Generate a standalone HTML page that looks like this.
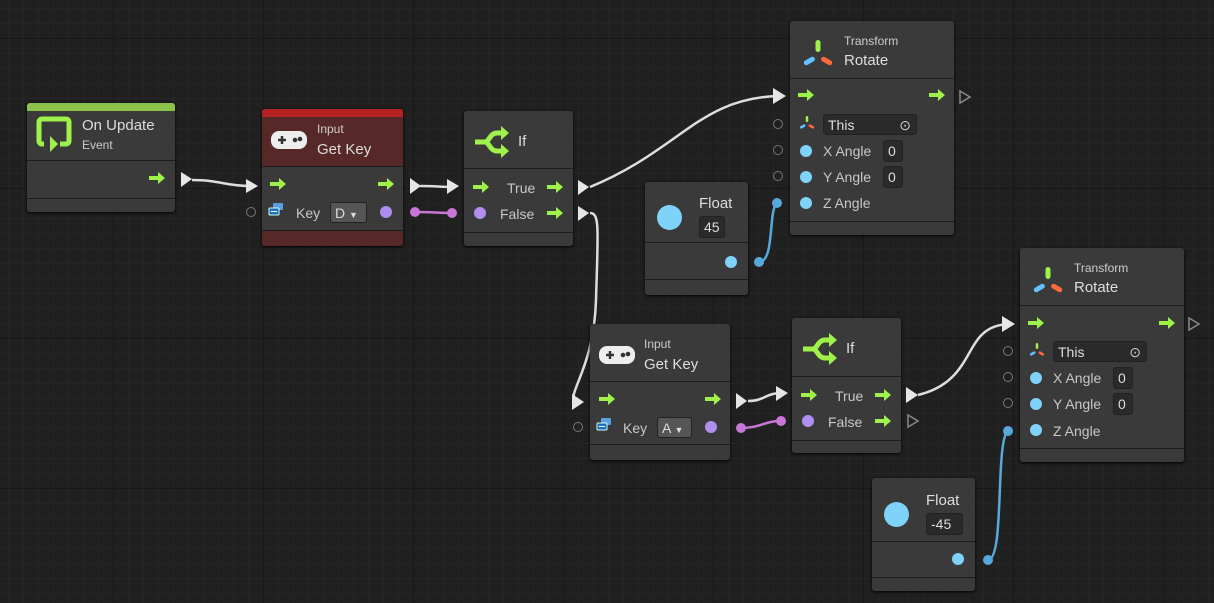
<!DOCTYPE html>
<html><head><meta charset="utf-8">
<style>
body{margin:0;width:1214px;height:603px;overflow:hidden;background:#202020;font-family:"Liberation Sans",sans-serif;position:relative}
.grid{position:absolute;inset:0;
background-image:
linear-gradient(90deg,#181818 1px,transparent 1px),
linear-gradient(0deg,#181818 1px,transparent 1px),
linear-gradient(90deg,#252525 1px,transparent 1px),
linear-gradient(0deg,#252525 1px,transparent 1px);
background-size:150px 150px,150px 150px,15px 15px,15px 15px;
background-position:113px 0,0 39px,8px 0,0 9px;}
.n{position:absolute;background:#3a3a3a;border-radius:3px;box-shadow:0 1px 3px #000;overflow:hidden}
.h{position:absolute;left:0;right:0;top:0;background:#3a3a3a;border-bottom:1px solid #1e1e1e}
.b{position:absolute;left:0;right:0;background:#3a3a3a;border-bottom:1px solid #1e1e1e}
.f{position:absolute;left:0;right:0;bottom:0;background:#3a3a3a}
.t{position:absolute;color:#ddd;font-size:15px;white-space:nowrap}
.s{position:absolute;color:#ccc;font-size:12px;white-space:nowrap}
.l{position:absolute;color:#c8c8c8;font-size:14px;white-space:nowrap}
.ga{position:absolute}
.dot{position:absolute;width:12px;height:12px;border-radius:50%}
.oc{position:absolute;width:8px;height:8px;border-radius:50%;border:1.5px solid #777}
.box{position:absolute;background:#2a2a2a;border:1px solid #222;border-radius:3px;color:#ddd;font-size:14px;padding-left:4px;box-sizing:border-box;line-height:20px}
</style></head><body>
<div class="grid"></div>
<svg width="1214" height="603" style="position:absolute;left:0;top:0">
<g fill="none" stroke-width="2.5">
<path d="M192 180 C220 180,225 186,250 186" stroke="#ddd"/>
<path d="M420 186 C435 186,440 187,452 187" stroke="#ddd"/>
<path d="M415 212 C430 212,440 213,452 213" stroke="#c877d6"/>
<path d="M590 187 C680 150,700 97,780 96" stroke="#ddd"/>
<path d="M590 213 C600 213,598 230,596 300 C594 370,565 395,576 402" stroke="#ddd"/>
<path d="M759 262 C775 262,768 210,777 203" stroke="#58a8dc"/>
<path d="M748 401 C765 401,765 393,782 393" stroke="#ddd"/>
<path d="M741 428 C760 428,765 421,780 421" stroke="#c877d6"/>
<path d="M918 395 C980 380,960 325,1010 324" stroke="#ddd"/>
<path d="M988 560 C1005 560,995 440,1008 431" stroke="#58a8dc"/>
</g>
<g fill="#e6e6e6">
<path d="M181 172 L192 179 L181 187z"/>
<path d="M246 179 L258 186 L246 193z"/>
<path d="M410 178 L421 186 L410 194z"/>
<path d="M447 179 L459 186 L447 194z"/>
<path d="M578 180 L589 187 L578 195z"/>
<path d="M578 206 L589 213 L578 221z"/>
<path d="M773 88 L786 96 L773 104z"/>
<path d="M572 394 L584 402 L572 410z"/>
<path d="M736 393 L747 401 L736 409z"/>
<path d="M776 386 L788 393 L776 401z"/>
<path d="M906 387 L918 395 L906 403z"/>
<path d="M1002 316 L1015 324 L1002 332z"/>
</g>
<g fill="none" stroke="#888" stroke-width="1.5">
<path d="M960 91 L970 97 L960 103z"/>
<path d="M1189 318 L1199 324 L1189 330z"/>
<path d="M908 415 L918 421 L908 427z"/>
</g>
<g fill="#c877d6"><circle cx="415" cy="212" r="5"/><circle cx="452" cy="213" r="5"/><circle cx="741" cy="428" r="5"/><circle cx="781" cy="421" r="5"/></g>
<g fill="#58a8dc"><circle cx="759" cy="262" r="5"/><circle cx="777" cy="203" r="5"/><circle cx="988" cy="560" r="5"/><circle cx="1008" cy="431" r="5"/></g>
</svg>

<!-- On Update -->
<div class="n" style="left:27px;top:103px;width:148px;height:109px">
<div class="h" style="height:49px;border-top:8px solid #8bc34a"></div>
<div class="b" style="top:58px;height:37px"></div>
</div>
<svg style="position:absolute;left:36px;top:116px" width="38" height="38"><path d="M8 28 H6 a3 3 0 0 1 -3 -3 V6 a3 3 0 0 1 3 -3 H30 a3 3 0 0 1 3 3 V25 a3 3 0 0 1 -3 3 H24" fill="none" stroke="#9ef24a" stroke-width="5"/><path d="M14 20 L22 28 L14 36z" fill="#9ef24a"/></svg>
<div class="t" style="left:82px;top:117px">On Update</div>
<div class="s" style="left:82px;top:138px">Event</div>

<!-- Get Key 1 -->
<div class="n" style="left:262px;top:109px;width:141px;height:137px;background:#572828">
<div class="h" style="height:49px;border-top:8px solid #b62121;background:#572828"></div>
<div class="b" style="top:58px;height:63px"></div>
<div class="f" style="height:15px;background:#572828"></div>
</div>
<div class="s" style="left:317px;top:122px">Input</div>
<div class="t" style="left:317px;top:141px">Get Key</div>

<!-- If 1 -->
<div class="n" style="left:464px;top:111px;width:109px;height:135px">
<div class="h" style="height:57px"></div><div class="b" style="top:58px;height:63px"></div></div>
<div class="t" style="left:518px;top:133px">If</div>
<div class="l" style="left:507px;top:180px">True</div>
<div class="l" style="left:500px;top:206px">False</div>
<div class="dot" style="left:474px;top:207px;background:#b08ef0"></div>

<!-- Rotate 1 -->
<div class="n" style="left:790px;top:21px;width:164px;height:214px">
<div class="h" style="height:57px"></div><div class="b" style="top:58px;height:142px"></div></div>
<div class="s" style="left:844px;top:34px">Transform</div>
<div class="t" style="left:844px;top:52px">Rotate</div>
<div class="box" style="left:823px;top:114px;width:94px;height:21px">This<span style="position:absolute;right:5px;color:#ccc">⊙</span></div>
<div class="l" style="left:823px;top:143px">X Angle</div><div class="box" style="left:883px;top:140px;width:20px;height:22px">0</div>
<div class="l" style="left:823px;top:169px">Y Angle</div><div class="box" style="left:883px;top:166px;width:20px;height:22px">0</div>
<div class="l" style="left:823px;top:195px">Z Angle</div>
<div class="dot" style="left:800px;top:145px;background:#7fd3fb"></div>
<div class="dot" style="left:800px;top:171px;background:#7fd3fb"></div>
<div class="dot" style="left:800px;top:197px;background:#7fd3fb"></div>
<div class="oc" style="left:773px;top:119px"></div><div class="oc" style="left:773px;top:145px"></div><div class="oc" style="left:773px;top:171px"></div>

<!-- Float 45 -->
<div class="n" style="left:645px;top:182px;width:103px;height:113px">
<div class="h" style="height:60px"></div><div class="b" style="top:61px;height:36px"></div></div>
<div class="dot" style="left:657px;top:205px;width:25px;height:25px;background:#7fd3fb"></div>
<div class="t" style="left:699px;top:195px">Float</div>
<div class="box" style="left:699px;top:216px;width:26px;height:22px">45</div>
<div class="dot" style="left:725px;top:256px;background:#7fd3fb"></div>

<!-- Get Key 2 -->
<div class="n" style="left:590px;top:324px;width:140px;height:136px">
<div class="h" style="height:57px"></div><div class="b" style="top:58px;height:62px"></div></div>
<div class="s" style="left:644px;top:337px">Input</div>
<div class="t" style="left:644px;top:356px">Get Key</div>

<!-- If 2 -->
<div class="n" style="left:792px;top:318px;width:109px;height:135px">
<div class="h" style="height:58px"></div><div class="b" style="top:59px;height:63px"></div></div>
<div class="t" style="left:846px;top:340px">If</div>
<div class="l" style="left:835px;top:388px">True</div>
<div class="l" style="left:828px;top:414px">False</div>
<div class="dot" style="left:802px;top:415px;background:#b08ef0"></div>

<!-- Rotate 2 -->
<div class="n" style="left:1020px;top:248px;width:164px;height:214px">
<div class="h" style="height:57px"></div><div class="b" style="top:58px;height:142px"></div></div>
<div class="s" style="left:1074px;top:261px">Transform</div>
<div class="t" style="left:1074px;top:279px">Rotate</div>
<div class="box" style="left:1053px;top:341px;width:94px;height:21px">This<span style="position:absolute;right:5px;color:#ccc">⊙</span></div>
<div class="l" style="left:1053px;top:370px">X Angle</div><div class="box" style="left:1113px;top:367px;width:20px;height:22px">0</div>
<div class="l" style="left:1053px;top:396px">Y Angle</div><div class="box" style="left:1113px;top:393px;width:20px;height:22px">0</div>
<div class="l" style="left:1053px;top:423px">Z Angle</div>
<div class="dot" style="left:1030px;top:372px;background:#7fd3fb"></div>
<div class="dot" style="left:1030px;top:398px;background:#7fd3fb"></div>
<div class="dot" style="left:1030px;top:424px;background:#7fd3fb"></div>
<div class="oc" style="left:1003px;top:346px"></div><div class="oc" style="left:1003px;top:372px"></div><div class="oc" style="left:1003px;top:398px"></div>

<!-- Float -45 -->
<div class="n" style="left:872px;top:478px;width:103px;height:113px">
<div class="h" style="height:63px"></div><div class="b" style="top:64px;height:35px"></div></div>
<div class="dot" style="left:884px;top:502px;width:25px;height:25px;background:#7fd3fb"></div>
<div class="t" style="left:926px;top:492px">Float</div>
<div class="box" style="left:926px;top:513px;width:37px;height:22px">-45</div>
<div class="dot" style="left:952px;top:553px;background:#7fd3fb"></div>

<!-- key rows -->
<div class="oc" style="left:246px;top:207px"></div>
<div class="l" style="left:296px;top:205px">Key</div>
<div class="box" style="left:330px;top:202px;width:37px;height:21px;background:#555;color:#ddd">D <span style="font-size:9px">▼</span></div>
<div class="dot" style="left:380px;top:206px;background:#b08ef0"></div>
<div class="oc" style="left:573px;top:422px"></div>
<div class="l" style="left:623px;top:420px">Key</div>
<div class="box" style="left:657px;top:417px;width:35px;height:21px;background:#555;color:#ddd">A <span style="font-size:9px">▼</span></div>
<div class="dot" style="left:705px;top:421px;background:#b08ef0"></div>

<!-- small icons -->
<svg style="position:absolute;left:0;top:0" width="1214" height="603">
<defs>
<path id="ar" d="M0 4h9V0l7 6-7 6V8H0z" fill="#9ef24a"/>
<g id="pad"><rect x="0" y="0" width="36" height="18" rx="8" fill="#eee"/><path d="M7 9h8M11 5v8" stroke="#333" stroke-width="2.5"/><circle cx="24" cy="9" r="2.3" fill="#333"/><circle cx="29" cy="8" r="2.3" fill="#333"/></g>
<g id="ifi"><path d="M2 17h10 c4 0 5 -9 12 -9h6" fill="none" stroke="#9ef24a" stroke-width="5"/><path d="M12 17 c4 0 5 9 12 9h6" fill="none" stroke="#9ef24a" stroke-width="5"/><path d="M28 1l8 7-8 7z M28 19l8 7-8 7z" fill="#9ef24a"/></g>
<g id="tr"><rect x="-2.5" y="-16" width="5" height="12" rx="2.5" fill="#9ef24a"/><rect x="-2.5" y="-16" width="5" height="12" rx="2.5" fill="#ff6a3d" transform="rotate(120)"/><rect x="-2.5" y="-16" width="5" height="12" rx="2.5" fill="#61c3ff" transform="rotate(240)"/></g>
<g id="kc"><rect x="4" y="0" width="10" height="7" rx="1" fill="#5aa0e0"/><rect x="0" y="5" width="10" height="7" rx="1" fill="#1d6ec5" stroke="#cfe" stroke-width="1"/><path d="M2 8.5h6" stroke="#fff"/></g>
</defs>
<use href="#ar" x="149" y="172"/>
<use href="#ar" x="270" y="178"/><use href="#ar" x="378" y="178"/>
<use href="#ar" x="473" y="181"/><use href="#ar" x="547" y="181"/><use href="#ar" x="547" y="207"/>
<use href="#ar" x="798" y="89"/><use href="#ar" x="929" y="89"/>
<use href="#ar" x="599" y="393"/><use href="#ar" x="705" y="393"/>
<use href="#ar" x="801" y="389"/><use href="#ar" x="875" y="389"/><use href="#ar" x="875" y="415"/>
<use href="#ar" x="1028" y="317"/><use href="#ar" x="1159" y="317"/>
<use href="#pad" x="271" y="131"/><use href="#pad" x="599" y="346"/>
<use href="#ifi" x="473" y="125"/><use href="#ifi" x="801" y="332"/>
<use href="#tr" x="818" y="56"/><use href="#tr" x="1048" y="283"/>
<g transform="translate(807,124) scale(0.5)"><use href="#tr"/></g>
<g transform="translate(1037,351) scale(0.5)"><use href="#tr"/></g>
<use href="#kc" x="269" y="203"/><use href="#kc" x="597" y="418"/>
</svg>
</body></html>
